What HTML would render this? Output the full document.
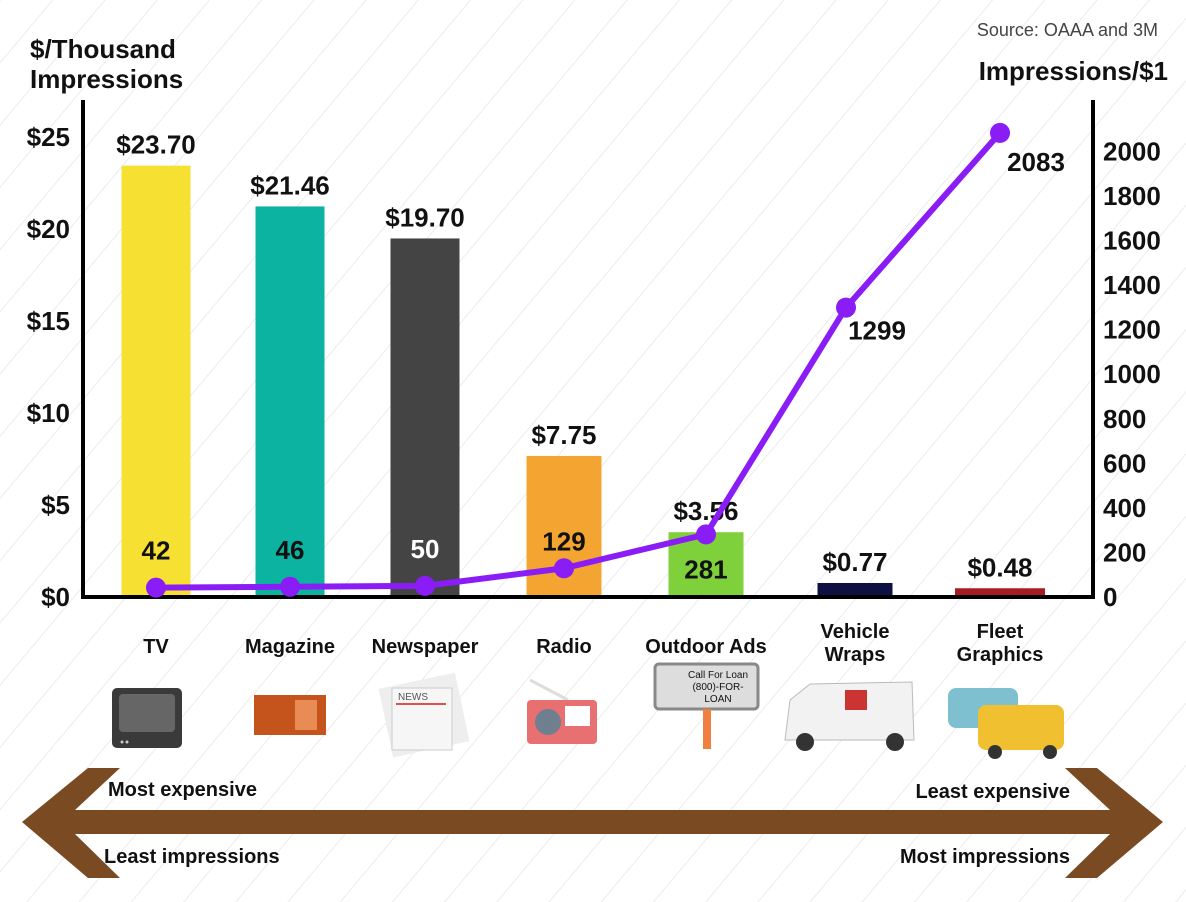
<!DOCTYPE html>
<html><head><meta charset="utf-8"><style>
html,body{margin:0;padding:0;background:#fff;}
svg{display:block;font-family:"Liberation Sans",sans-serif;}
</style></head><body>
<svg id="c" width="1186" height="902" viewBox="0 0 1186 902" xmlns="http://www.w3.org/2000/svg">
<defs>
<pattern id="stripes" width="40" height="40" patternUnits="userSpaceOnUse" patternTransform="rotate(40)">
<line x1="0" y1="0" x2="0" y2="40" stroke="#e6e6e6" stroke-width="1.5"/>
</pattern>
</defs>
<rect width="1186" height="902" fill="url(#stripes)"/>
<text x="1158" y="36" text-anchor="end" font-size="18" fill="#444">Source: OAAA and 3M</text>
<text x="30" y="58" font-size="26" font-weight="bold" fill="#111"><tspan x="30">$/Thousand</tspan><tspan x="30" dy="30">Impressions</tspan></text>
<text x="1168" y="80" text-anchor="end" font-size="26" font-weight="bold" fill="#111">Impressions/$1</text>
<g id="bars"></g>
<g id="axes"></g>
<g id="line"></g>
<g id="icons">
<g><rect x="112" y="688" width="70" height="60" rx="5" fill="#3a3a3a"/><rect x="119" y="694" width="56" height="38" rx="4" fill="#666"/><circle cx="122" cy="742" r="1.5" fill="#ccc"/><circle cx="127" cy="742" r="1.5" fill="#ccc"/></g>
<g><rect x="254" y="695" width="72" height="40" fill="#c4541c"/><rect x="295" y="700" width="22" height="30" fill="#e98b55"/></g>
<g><rect x="385" y="680" width="78" height="70" fill="#eee" transform="rotate(-12 424 715)"/><rect x="392" y="688" width="60" height="62" fill="#f6f6f6" stroke="#ccc"/><text x="398" y="700" font-size="10" fill="#555">NEWS</text><rect x="396" y="703" width="50" height="2" fill="#e05050"/></g>
<g><line x1="530" y1="680" x2="568" y2="700" stroke="#ddd" stroke-width="3"/><rect x="527" y="700" width="70" height="44" rx="4" fill="#e87070"/><circle cx="548" cy="722" r="13" fill="#6f7f8f"/><rect x="565" y="706" width="25" height="20" fill="#fff"/></g>
<g><rect x="655" y="664" width="103" height="45" rx="4" fill="#ddd" stroke="#888" stroke-width="3"/><rect x="703" y="709" width="8" height="40" fill="#f08040"/><text x="718" y="678" font-size="10" text-anchor="middle" fill="#111">Call For Loan</text><text x="718" y="690" font-size="10" text-anchor="middle" fill="#111">(800)-FOR-</text><text x="718" y="702" font-size="10" text-anchor="middle" fill="#111">LOAN</text></g>
<g><path d="M785 740 L790 700 L810 684 L912 682 L914 740 Z" fill="#f2f2f2" stroke="#bbb"/><circle cx="805" cy="742" r="9" fill="#333"/><circle cx="895" cy="742" r="9" fill="#333"/><rect x="845" y="690" width="22" height="20" fill="#c33"/></g>
<g><rect x="948" y="688" width="70" height="40" rx="8" fill="#7fc0d0"/><rect x="978" y="705" width="86" height="45" rx="8" fill="#f0c030"/><circle cx="995" cy="752" r="7" fill="#333"/><circle cx="1050" cy="752" r="7" fill="#333"/></g>
</g>
<g>
<path d="M22 822 L88 768 L120 768 L75 810 L1110 810 L1065 768 L1097 768 L1163 822 L1097 878 L1065 878 L1110 834 L75 834 L120 878 L88 878 Z" fill="#7a4a22"/>
</g>
<text x="108" y="796" font-size="20" font-weight="bold" fill="#111">Most expensive</text>
<text x="104" y="863" font-size="20" font-weight="bold" fill="#111">Least impressions</text>
<text x="1070" y="798" text-anchor="end" font-size="20" font-weight="bold" fill="#111">Least expensive</text>
<text x="1070" y="863" text-anchor="end" font-size="20" font-weight="bold" fill="#111">Most impressions</text>
</svg>
<script>
const categories=["TV","Magazine","Newspaper","Radio","Outdoor Ads","Vehicle Wraps","Fleet Graphics"];
const costValues=[23.70,21.46,19.70,7.75,3.56,0.77,0.48];
const costLabels=["$23.70","$21.46","$19.70","$7.75","$3.56","$0.77","$0.48"];
const impressionValues=[42,46,50,129,281,1299,2083];
const leftTicks=[0,5,10,15,20,25];
const rightTicks=[0,200,400,600,800,1000,1200,1400,1600,1800,2000];
const barColors=["#f6e133","#0db3a1","#444444","#f4a431","#7fd13b","#0e1042","#a51c22"];
const NS="http://www.w3.org/2000/svg";
const X0=83,X1=1093,Y0=597;
const yL=v=>Y0-v*18.2;
const yR=v=>Y0-v*0.2228;
const centers=[156,290,425,564,706,855,1000];
const xC=i=>centers[i];
function mk(tag,attrs,parent,txt){const e=document.createElementNS(NS,tag);for(const k in attrs)e.setAttribute(k,attrs[k]);if(txt!==undefined)e.textContent=txt;parent.appendChild(e);return e;}
const bars=document.getElementById('bars'),axes=document.getElementById('axes'),line=document.getElementById('line');
costValues.forEach((v,i)=>{
 const w=i===6?90:(i>=3?75:69);
 const r=mk('rect',{x:xC(i)-w/2,y:yL(v),width:w,height:Y0-yL(v),fill:barColors[i]},bars);
 
 
 const t=mk('text',{x:xC(i),y:yL(v)-12,'text-anchor':'middle','font-size':26,'font-weight':'bold',fill:'#111'},bars,costLabels[i]);
 
 
 const words=categories[i].split(' ');
 const lines=(i>=5)?words:[categories[i]];
 lines.forEach((wd,j)=>{
  const c=mk('text',{x:xC(i),y:(lines.length>1?638:653)+j*23,'text-anchor':'middle','font-size':20,'font-weight':'bold',fill:'#111'},bars,wd);
  
  
 });
});
mk('line',{x1:X0,y1:100,x2:X0,y2:Y0+2,stroke:'#000','stroke-width':4},axes);
mk('line',{x1:X1,y1:100,x2:X1,y2:Y0+2,stroke:'#000','stroke-width':4},axes);
mk('line',{x1:X0-2,y1:Y0,x2:X1+2,y2:Y0,stroke:'#000','stroke-width':4},axes);
leftTicks.forEach(v=>{
 const t=mk('text',{x:70,y:Y0-v*18.4+9,'text-anchor':'end','font-size':26,'font-weight':'bold',fill:'#111'},axes,'$'+v);
 
 
});
rightTicks.forEach(v=>{
 const t=mk('text',{x:1103,y:yR(v)+9,'font-size':26,'font-weight':'bold',fill:'#111'},axes,String(v));
 
 
});
const pts=impressionValues.map((v,i)=>[xC(i)+(i===5?-9:0),yR(v)]);
const pl=mk('polyline',{points:pts.map(p=>p.join(',')).join(' '),fill:'none',stroke:'#8a1cf5','stroke-width':6,'stroke-linejoin':'round'},line);


impressionValues.forEach((v,i)=>{
 const c=mk('circle',{cx:pts[i][0],cy:pts[i][1],r:10,fill:'#8a1cf5'},line);
 
 
 let lx=xC(i),ly=pts[i][1]-28,fill=i===2?'#fff':'#111';
 if(i===3)ly=pts[i][1]-18;
 if(i===4){ly=pts[i][1]+44;}
 if(i===5){lx=pts[i][0]+31;ly=pts[i][1]+32;}
 if(i===6){lx=pts[i][0]+36;ly=pts[i][1]+38;}
 const t=mk('text',{x:lx,y:ly,'text-anchor':'middle','font-size':26,'font-weight':'bold',fill:fill},line,String(v));
 
 
});
</script>
</body></html>
